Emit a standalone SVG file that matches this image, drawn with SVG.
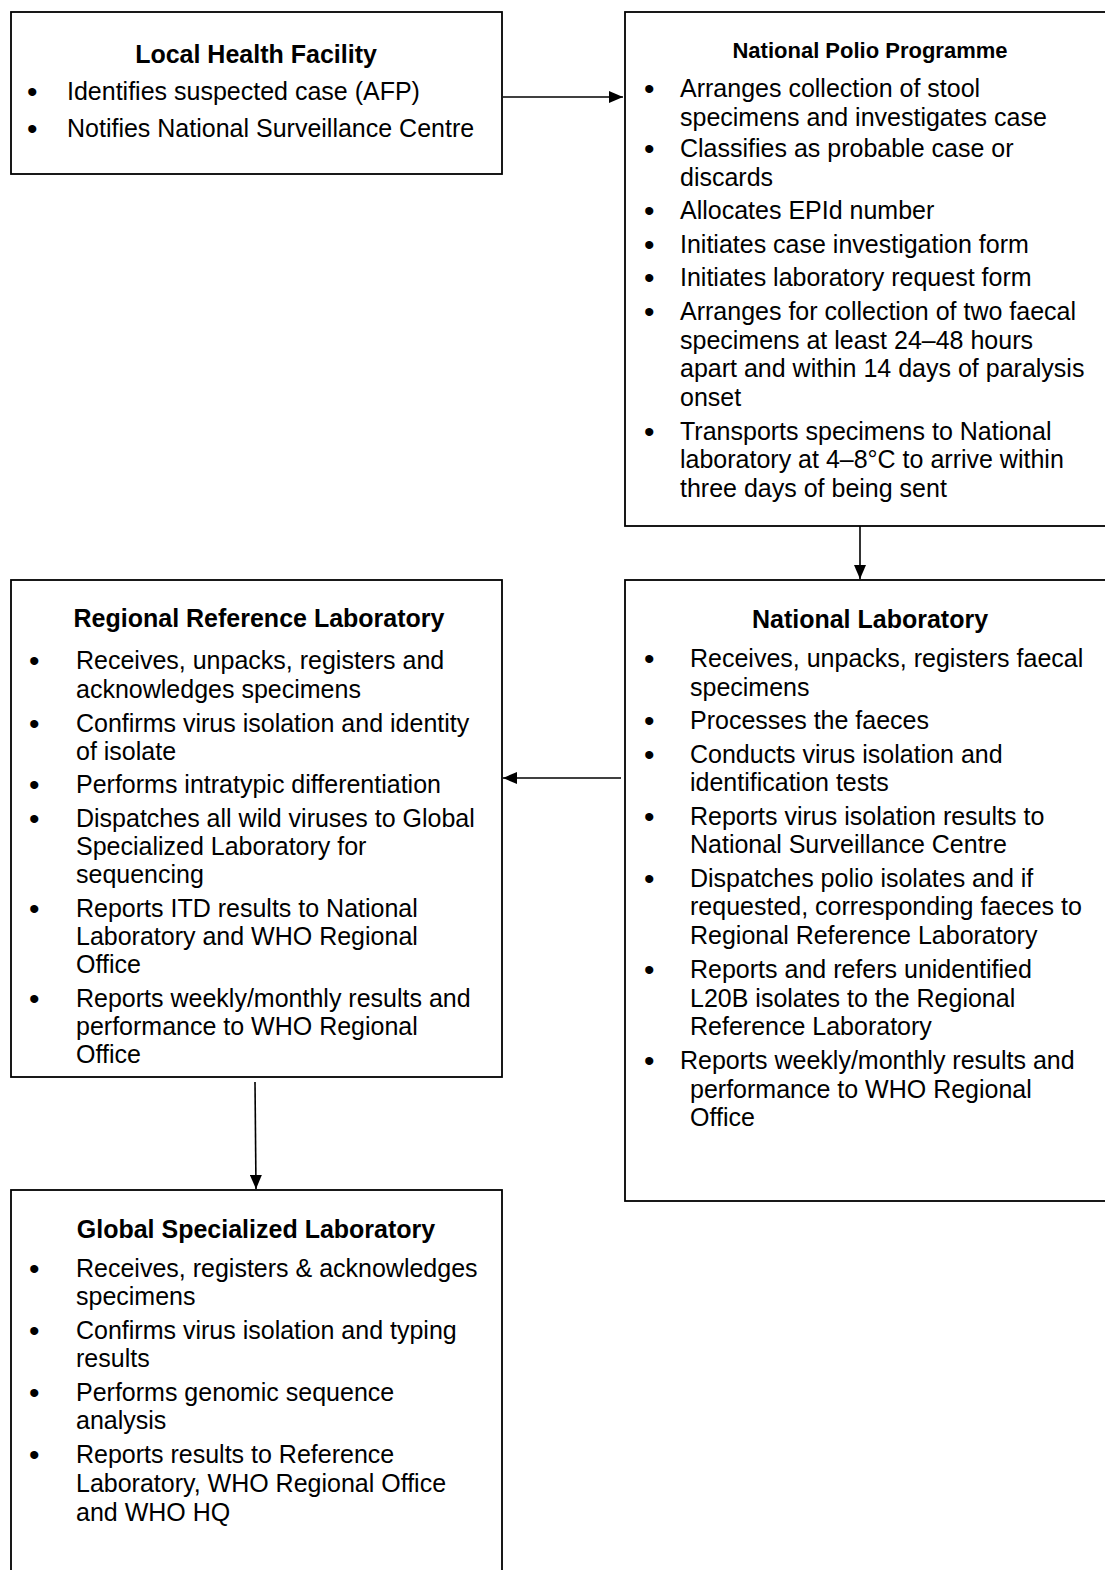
<svg xmlns="http://www.w3.org/2000/svg" width="1105" height="1570" viewBox="0 0 1105 1570">
<style>
  .box { fill: #ffffff; stroke: #000000; stroke-width: 1.8; }
  .t { font-family: "Liberation Sans", Arial, sans-serif; font-size: 25px; fill: #000000; }
  .b { font-family: "Liberation Sans", Arial, sans-serif; font-size: 30px; fill: #000000; }
  .h { font-family: "Liberation Sans", Arial, sans-serif; font-size: 25px; font-weight: bold; fill: #000000; text-anchor: middle; }
  .hs { font-size: 22px; }
  .c { stroke: #000000; stroke-width: 1.6; fill: none; }
</style>
<defs>
  <marker id="ah" markerWidth="14" markerHeight="12" refX="14" refY="6" orient="auto" markerUnits="userSpaceOnUse">
    <path d="M0,0 L14,6 L0,12 Z" fill="#000000"/>
  </marker>
</defs>
<rect width="1105" height="1570" fill="#ffffff"/>

<g id="connectors">
  <line class="c" x1="503" y1="97" x2="623" y2="97" marker-end="url(#ah)"/>
  <line class="c" x1="860" y1="526" x2="860" y2="579" marker-end="url(#ah)"/>
  <line class="c" x1="621" y1="778" x2="503" y2="778" marker-end="url(#ah)"/>
  <line class="c" x1="255" y1="1082" x2="256" y2="1189" marker-end="url(#ah)"/>
</g>

<g id="local-health-facility">
  <rect class="box" x="11" y="12" width="491" height="162"/>
  <text class="h" x="256" y="63">Local Health Facility</text>
  <text class="b" x="27" y="102">•</text>
  <text class="t" x="67" y="100">Identifies suspected case (AFP)</text>
  <text class="b" x="27" y="139">•</text>
  <text class="t" x="67" y="137">Notifies National Surveillance Centre</text>
</g>

<g id="national-polio-programme">
  <rect class="box" x="625" y="12" width="490" height="514"/>
  <text class="h hs" x="870" y="58">National Polio Programme</text>
  <text class="b" x="644" y="99">•</text>
  <text class="t" x="680" y="97">Arranges collection of stool</text>
  <text class="t" x="680" y="126">specimens and investigates case</text>
  <text class="b" x="644" y="159">•</text>
  <text class="t" x="680" y="157">Classifies as probable case or</text>
  <text class="t" x="680" y="186">discards</text>
  <text class="b" x="644" y="221">•</text>
  <text class="t" x="680" y="219">Allocates EPId number</text>
  <text class="b" x="644" y="255">•</text>
  <text class="t" x="680" y="253">Initiates case investigation form</text>
  <text class="b" x="644" y="288">•</text>
  <text class="t" x="680" y="286">Initiates laboratory request form</text>
  <text class="b" x="644" y="322">•</text>
  <text class="t" x="680" y="320">Arranges for collection of two faecal</text>
  <text class="t" x="680" y="349">specimens at least 24–48 hours</text>
  <text class="t" x="680" y="377">apart and within 14 days of paralysis</text>
  <text class="t" x="680" y="406">onset</text>
  <text class="b" x="644" y="442">•</text>
  <text class="t" x="680" y="440">Transports specimens to National</text>
  <text class="t" x="680" y="468">laboratory at 4–8°C to arrive within</text>
  <text class="t" x="680" y="497">three days of being sent</text>
</g>

<g id="national-laboratory">
  <rect class="box" x="625" y="580" width="490" height="621"/>
  <text class="h" x="870" y="628">National Laboratory</text>
  <text class="b" x="644" y="669">•</text>
  <text class="t" x="690" y="667">Receives, unpacks, registers faecal</text>
  <text class="t" x="690" y="696">specimens</text>
  <text class="b" x="644" y="731">•</text>
  <text class="t" x="690" y="729">Processes the faeces</text>
  <text class="b" x="644" y="765">•</text>
  <text class="t" x="690" y="763">Conducts virus isolation and</text>
  <text class="t" x="690" y="791">identification tests</text>
  <text class="b" x="644" y="827">•</text>
  <text class="t" x="690" y="825">Reports virus isolation results to</text>
  <text class="t" x="690" y="853">National Surveillance Centre</text>
  <text class="b" x="644" y="889">•</text>
  <text class="t" x="690" y="887">Dispatches polio isolates and if</text>
  <text class="t" x="690" y="915">requested, corresponding faeces to</text>
  <text class="t" x="690" y="944">Regional Reference Laboratory</text>
  <text class="b" x="644" y="980">•</text>
  <text class="t" x="690" y="978">Reports and refers unidentified</text>
  <text class="t" x="690" y="1007">L20B isolates to the Regional</text>
  <text class="t" x="690" y="1035">Reference Laboratory</text>
  <text class="b" x="644" y="1071">•</text>
  <text class="t" x="680" y="1069">Reports weekly/monthly results and</text>
  <text class="t" x="690" y="1098">performance to WHO Regional</text>
  <text class="t" x="690" y="1126">Office</text>
</g>

<g id="regional-reference-laboratory">
  <rect class="box" x="11" y="580" width="491" height="497"/>
  <text class="h" x="259" y="627">Regional Reference Laboratory</text>
  <text class="b" x="29" y="671">•</text>
  <text class="t" x="76" y="669">Receives, unpacks, registers and</text>
  <text class="t" x="76" y="698">acknowledges specimens</text>
  <text class="b" x="29" y="734">•</text>
  <text class="t" x="76" y="732">Confirms virus isolation and identity</text>
  <text class="t" x="76" y="760">of isolate</text>
  <text class="b" x="29" y="795">•</text>
  <text class="t" x="76" y="793">Performs intratypic differentiation</text>
  <text class="b" x="29" y="829">•</text>
  <text class="t" x="76" y="827">Dispatches all wild viruses to Global</text>
  <text class="t" x="76" y="855">Specialized Laboratory for</text>
  <text class="t" x="76" y="883">sequencing</text>
  <text class="b" x="29" y="919">•</text>
  <text class="t" x="76" y="917">Reports ITD results to National</text>
  <text class="t" x="76" y="945">Laboratory and WHO Regional</text>
  <text class="t" x="76" y="973">Office</text>
  <text class="b" x="29" y="1009">•</text>
  <text class="t" x="76" y="1007">Reports weekly/monthly results and</text>
  <text class="t" x="76" y="1035">performance to WHO Regional</text>
  <text class="t" x="76" y="1063">Office</text>
</g>

<g id="global-specialized-laboratory">
  <rect class="box" x="11" y="1190" width="491" height="400"/>
  <text class="h" x="256" y="1238">Global Specialized Laboratory</text>
  <text class="b" x="29" y="1279">•</text>
  <text class="t" x="76" y="1277">Receives, registers &amp; acknowledges</text>
  <text class="t" x="76" y="1305">specimens</text>
  <text class="b" x="29" y="1341">•</text>
  <text class="t" x="76" y="1339">Confirms virus isolation and typing</text>
  <text class="t" x="76" y="1367">results</text>
  <text class="b" x="29" y="1403">•</text>
  <text class="t" x="76" y="1401">Performs genomic sequence</text>
  <text class="t" x="76" y="1429">analysis</text>
  <text class="b" x="29" y="1465">•</text>
  <text class="t" x="76" y="1463">Reports results to Reference</text>
  <text class="t" x="76" y="1492">Laboratory, WHO Regional Office</text>
  <text class="t" x="76" y="1521">and WHO HQ</text>
</g>
</svg>
